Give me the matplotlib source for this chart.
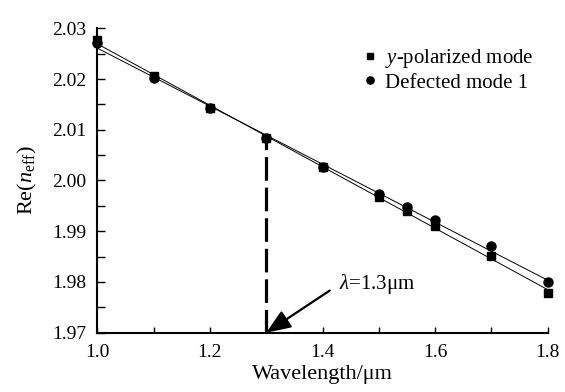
import numpy as np
import matplotlib.pyplot as plt

plt.rcParams['font.family'] = ['Liberation Serif', 'DejaVu Serif']
plt.rcParams['mathtext.fontset'] = 'custom'
plt.rcParams['mathtext.rm'] = 'Liberation Serif'
plt.rcParams['mathtext.it'] = 'Liberation Serif:italic'
plt.rcParams['lines.scale_dashes'] = False

# wavelength in um
wavelength = [1.0, 1.1, 1.2, 1.3, 1.4, 1.5, 1.55, 1.6, 1.7, 1.8]
# Re(n_eff)
y_pol = [2.0277, 2.0205, 2.0143, 2.0083, 2.0026, 1.9967, 1.9940, 1.9910, 1.9851, 1.9778]
defected = [2.0271, 2.0202, 2.0142, 2.0083, 2.0026, 1.9974, 1.9947, 1.9922, 1.9870, 1.9799]

lambda0 = 1.3

fig = plt.figure(figsize=(5.65, 3.92), dpi=100)
ax = fig.add_axes([0.1722, 0.1513, 0.7972, 0.7765])

x = np.array(wavelength)
xfit = np.array([1.0, 1.8])

# linear fits
for vals in (y_pol, defected):
    p = np.polyfit(x, vals, 1)
    ax.plot(xfit, np.polyval(p, xfit), color='black', lw=0.7, zorder=2)

sq, = ax.plot(wavelength, y_pol, 's', color='black', ms=6, zorder=3, clip_on=False,
              label=r'$\mathit{y}$-polarized mode')
ci, = ax.plot(wavelength, defected, 'o', color='black', ms=6.5, zorder=3, clip_on=False,
              label='Defected mode 1')

# vertical dashed marker at 1.3 um
y0 = defected[wavelength.index(lambda0)]
ax.plot([lambda0, lambda0], [1.97, y0], color='black', lw=2.3,
        dashes=(17, 5), zorder=2)

ax.annotate('', xy=(lambda0, 1.97), xytext=(1.4128, 1.9783),
            arrowprops=dict(arrowstyle='-|>,head_length=1.5,head_width=0.6',
                            color='black', lw=1.6, shrinkA=0, shrinkB=0))
ax.text(1.4288, 1.9796, r'$\mathit{\lambda}$=1.3μm', fontsize=15,
        va='center', ha='left')

ax.set_xlim(1.0, 1.8)
ax.set_ylim(1.97, 2.03)
ax.set_xticks([1.0, 1.2, 1.4, 1.6, 1.8])
ax.set_xticks([1.1, 1.3, 1.5, 1.7], minor=True)
ax.set_yticks([1.97, 1.98, 1.99, 2.00, 2.01, 2.02, 2.03])
ax.set_yticks([1.975, 1.985, 1.995, 2.005, 2.015, 2.025], minor=True)
ax.set_xticklabels(['1.0', '1.2', '1.4', '1.6', '1.8'])
ax.set_yticklabels(['1.97', '1.98', '1.99', '2.00', '2.01', '2.02', '2.03'])

for s in ['top', 'right']:
    ax.spines[s].set_visible(False)
for s in ['left', 'bottom']:
    ax.spines[s].set_linewidth(1.5)

ax.tick_params(which='both', direction='in', width=1, labelsize=14)
ax.tick_params(axis='y', which='both', length=6, pad=8)
ax.tick_params(axis='x', which='both', length=4, pad=8)

ax.set_xlabel('Wavelength/μm', fontsize=16, labelpad=3)
ax.set_ylabel(r'Re($\mathit{n}_{\rm eff}$)', fontsize=16, labelpad=9)

ax.legend(handles=[sq, ci], loc='upper left', bbox_to_anchor=(0.545, 1.0),
          frameon=False, fontsize=15, handlelength=0.8, handletextpad=0.35,
          labelspacing=0.15, markerscale=0.8)

fig.savefig('out.png', dpi=100)
